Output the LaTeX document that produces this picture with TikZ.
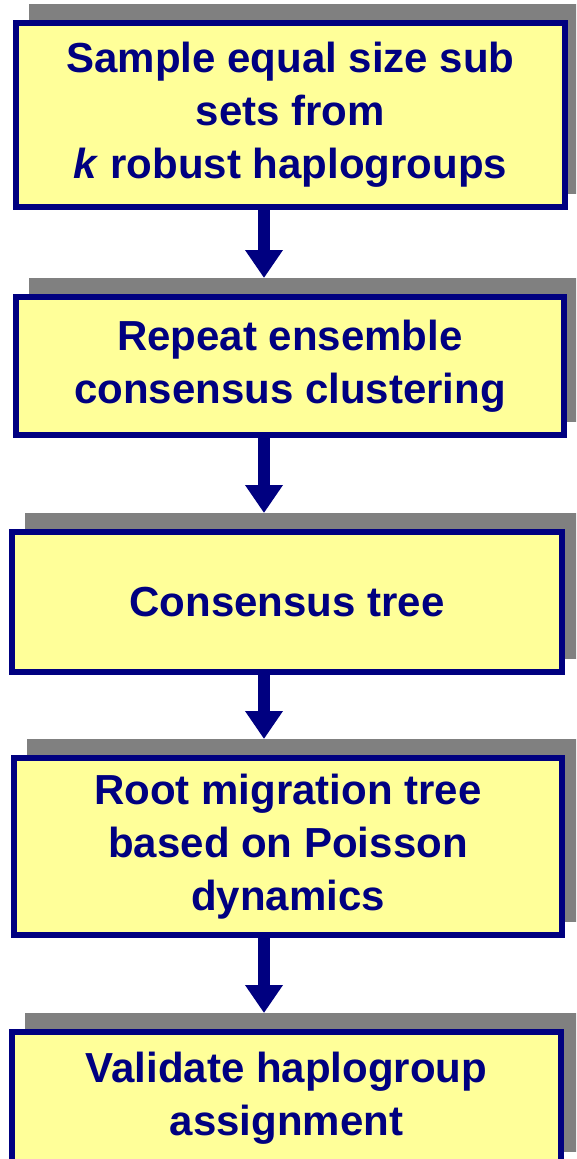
\documentclass[tikz,border=0pt]{standalone}
\usepackage{fontspec}
\setmainfont{Liberation Sans}
\usetikzlibrary{arrows.meta}
\definecolor{navy}{RGB}{0,0,128}
\definecolor{paleyellow}{RGB}{255,255,153}
\definecolor{shadowgray}{RGB}{128,128,128}
\begin{document}
\begin{tikzpicture}[x=1pt,y=-1pt,
  stepbox/.style={draw=navy, line width=6pt, fill=paleyellow, text=navy,
    align=center, inner sep=0pt,
    font=\fontsize{42}{53}\selectfont\bfseries},
  boxshadow/.style={fill=shadowgray, inner sep=0pt, outer sep=0pt},
  flow/.style={draw=navy, line width=12pt,
    -{Triangle[width=36pt,length=28pt]}}]
\useasboundingbox (0,0) rectangle (576,1159);
\clip (0,0) rectangle (576,1159);

% drop shadows behind the steps
\node[boxshadow, minimum width=555pt, minimum height=190pt] (s1) at (306.5,99) {};
\node[boxshadow, minimum width=554pt, minimum height=144pt] (s2) at (306,350) {};
\node[boxshadow, minimum width=556pt, minimum height=146pt] (s3) at (303,586) {};
\node[boxshadow, minimum width=554pt, minimum height=183pt] (s4) at (304,830.5) {};
\node[boxshadow, minimum width=555pt, minimum height=139pt] (s5) at (302.5,1082.5) {};

% the steps
\node[stepbox, minimum width=549pt, minimum height=184pt] (b1) at (290.5,115)
  {Sample equal size sub\\sets from\\\textit{k} robust haplogroups};
\node[stepbox, minimum width=548pt, minimum height=138pt] (b2) at (290,366)
  {Repeat ensemble\\consensus clustering};
\node[stepbox, minimum width=550pt, minimum height=140pt] (b3) at (287,602)
  {Consensus tree};
\node[stepbox, minimum width=548pt, minimum height=177pt] (b4) at (288,846.5)
  {Root migration tree\\based on Poisson\\dynamics};
\node[stepbox, minimum width=549pt, minimum height=133pt] (b5) at (286.5,1098.5)
  {Validate haplogroup\\assignment};

% connectors
\coordinate (ax) at (264,0);
\draw[flow] (b1.south -| ax) -- (s2.north -| ax);
\draw[flow] (b2.south -| ax) -- (s3.north -| ax);
\draw[flow] (b3.south -| ax) -- (s4.north -| ax);
\draw[flow] (b4.south -| ax) -- (s5.north -| ax);
\end{tikzpicture}
\end{document}
